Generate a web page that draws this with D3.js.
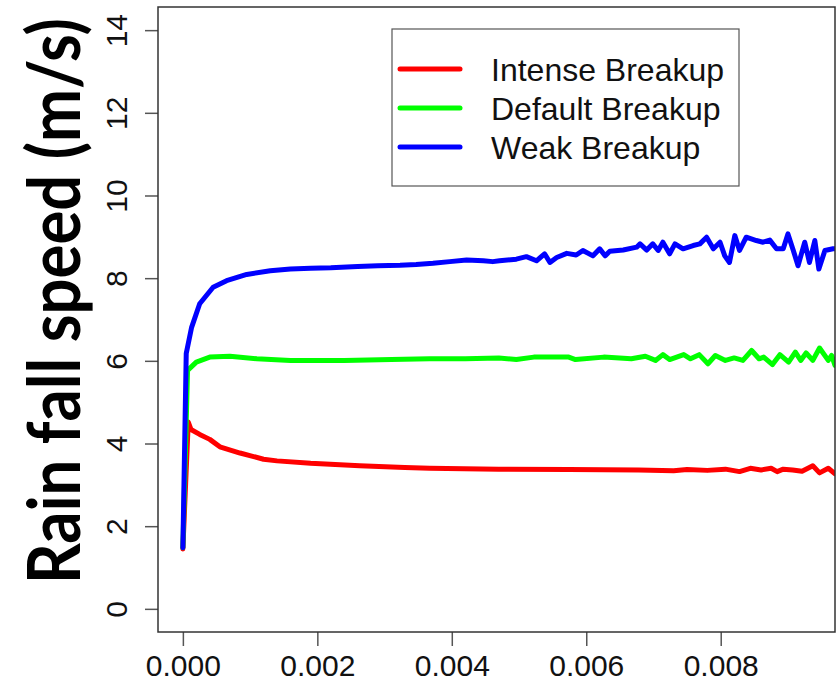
<!DOCTYPE html>
<html>
<head>
<meta charset="utf-8">
<style>
  body { margin: 0; background: #fff; }
  .tick-label { font-family: "Liberation Sans", Arial, sans-serif; fill: #111; }
  .legend-text { font-family: "Liberation Sans", Arial, sans-serif; font-size: 32px; fill: #111; }
  .series { fill: none; stroke-width: 5; stroke-linejoin: round; stroke-linecap: round; }
</style>
</head>
<body>
<svg id="chart" width="836" height="683"></svg>
<script src="https://cdn.jsdelivr.net/npm/d3@7"></script>
<script>
// time (s), speed (m/s)
const intense = [
  [0, 1.45], [0.00008, 4.52], [0.00012, 4.34], [0.00025, 4.22], [0.0004, 4.10],
  [0.00055, 3.92], [0.00085, 3.77], [0.0012, 3.62], [0.0014, 3.58], [0.0019, 3.52],
  [0.00263, 3.46], [0.0033, 3.42], [0.00367, 3.40], [0.0047, 3.38], [0.00574, 3.37],
  [0.00678, 3.36], [0.0073, 3.34], [0.0075, 3.37], [0.0078, 3.35], [0.00807, 3.38],
  [0.00828, 3.32], [0.00844, 3.40], [0.0086, 3.36], [0.00875, 3.40], [0.00884, 3.32],
  [0.00893, 3.38], [0.00907, 3.36], [0.00921, 3.33], [0.00937, 3.46], [0.00947, 3.29],
  [0.0096, 3.40], [0.0097, 3.27]
];
const deflt = [
  [0, 1.48], [0.00007, 5.77], [0.0002, 5.97], [0.0004, 6.09], [0.0007, 6.11],
  [0.0011, 6.05], [0.0016, 6.01], [0.0024, 6.01], [0.0031, 6.03], [0.00367, 6.05],
  [0.0042, 6.05], [0.0047, 6.07], [0.00496, 6.03], [0.00522, 6.09], [0.00574, 6.09],
  [0.00584, 6.03], [0.00626, 6.09], [0.00667, 6.05], [0.00688, 6.11], [0.00703, 6.01],
  [0.00714, 6.15], [0.00724, 6.03], [0.00745, 6.15], [0.00755, 6.05], [0.00768, 6.15],
  [0.00781, 5.93], [0.00792, 6.13], [0.00807, 6.01], [0.0082, 6.07], [0.00833, 6.01],
  [0.00846, 6.25], [0.00857, 6.05], [0.00864, 6.09], [0.00877, 5.91], [0.00888, 6.15],
  [0.00901, 5.97], [0.00911, 6.21], [0.00919, 6.01], [0.00927, 6.19], [0.00937, 6.01],
  [0.00947, 6.31], [0.0096, 6.01], [0.00965, 6.13], [0.0097, 5.89]
];
const weak = [
  [0, 1.48], [0.00005, 6.18], [0.00013, 6.81], [0.00025, 7.38], [0.00045, 7.78],
  [0.00065, 7.94], [0.00095, 8.09], [0.0013, 8.18], [0.0016, 8.22], [0.0019, 8.24],
  [0.0022, 8.25], [0.0026, 8.28], [0.0029, 8.30], [0.00323, 8.31], [0.00347, 8.33],
  [0.00372, 8.36], [0.00397, 8.40], [0.00422, 8.44], [0.00447, 8.42], [0.00461, 8.40],
  [0.00471, 8.42], [0.00496, 8.46], [0.00511, 8.52], [0.00526, 8.42], [0.00538, 8.59],
  [0.00546, 8.38], [0.00556, 8.50], [0.00571, 8.60], [0.00585, 8.56], [0.00595, 8.67],
  [0.0061, 8.54], [0.0062, 8.71], [0.00628, 8.54], [0.00635, 8.65], [0.00655, 8.68],
  [0.00675, 8.75], [0.0068, 8.83], [0.0069, 8.68], [0.00699, 8.83], [0.00707, 8.67],
  [0.00714, 8.87], [0.00724, 8.59], [0.00732, 8.83], [0.00744, 8.71], [0.00759, 8.79],
  [0.00769, 8.83], [0.00779, 8.99], [0.00789, 8.71], [0.00799, 8.87], [0.00806, 8.54],
  [0.00813, 8.38], [0.00821, 9.03], [0.00828, 8.67], [0.00838, 8.99], [0.00853, 8.91],
  [0.00863, 8.87], [0.00873, 8.92], [0.00883, 8.71], [0.00893, 8.71], [0.009, 9.07],
  [0.00908, 8.67], [0.00915, 8.30], [0.00925, 8.87], [0.00932, 8.38], [0.0094, 8.91],
  [0.00946, 8.22], [0.00955, 8.67], [0.00967, 8.71], [0.00975, 8.72]
];

const seriesNames = ["Intense Breakup", "Default Breakup", "Weak Breakup"];
const seriesColors = ["#ff0000", "#00ff00", "#0000ff"];
const seriesData = [intense, deflt, weak];
const xTicks = [0, 0.002, 0.004, 0.006, 0.008];
const yTicks = [0, 2, 4, 6, 8, 10, 12, 14];
const yTitle = "Rain fall speed (m/s)";

const svg = d3.select("#chart");
const plotLeft = 158, plotRight = 835, plotTop = 7, plotBottom = 632;

const x = d3.scaleLinear().domain([-0.00037, 0.0097]).range([plotLeft, plotRight]);
const y = d3.scaleLinear().domain([-0.56, 14.56]).range([plotBottom, plotTop]);

svg.append("clipPath").attr("id", "plotclip")
  .append("rect").attr("x", plotLeft).attr("y", plotTop)
  .attr("width", plotRight - plotLeft).attr("height", plotBottom - plotTop);

// axes, R style
let xAxis = svg.append("g").attr("transform", `translate(0,${plotBottom})`)
  .call(d3.axisBottom(x).tickValues(xTicks).tickFormat(d3.format(".3f")).tickSize(14));
xAxis.select(".domain").remove();
xAxis.selectAll("line").attr("stroke", "#555").attr("stroke-width", 1.5);
xAxis.selectAll("text").attr("class", "tick-label").attr("font-size", 30).attr("dy", null).attr("y", 44);

let yAxis = svg.append("g").attr("transform", `translate(${plotLeft},0)`)
  .call(d3.axisLeft(y).tickValues(yTicks).tickSize(13));
yAxis.select(".domain").remove();
yAxis.selectAll("line").attr("stroke", "#555").attr("stroke-width", 1.5);
yAxis.selectAll("text")
  .attr("class", "tick-label").attr("font-size", 30)
  .attr("x", null).attr("dy", null)
  .attr("text-anchor", "middle")
  .attr("transform", "translate(-31,0) rotate(-90)");

// data lines
let line = d3.line().x(d => x(d[0])).y(d => y(d[1]));
svg.append("g").attr("clip-path", "url(#plotclip)")
  .selectAll("path").data(seriesData)
  .enter().append("path")
  .attr("class", "series")
  .attr("stroke", (d, i) => seriesColors[i])
  .attr("d", line);

// plot box
svg.append("rect")
  .attr("x", plotLeft).attr("y", plotTop)
  .attr("width", plotRight - plotLeft).attr("height", plotBottom - plotTop)
  .attr("fill", "none").attr("stroke", "#333").attr("stroke-width", 1.5);

// legend
let legend = svg.append("g");
legend.append("rect")
  .attr("x", 392).attr("y", 29).attr("width", 347).attr("height", 157)
  .attr("fill", "#fff").attr("stroke", "#555").attr("stroke-width", 1.2);
let items = legend.selectAll("g.item").data(seriesNames).enter().append("g")
  .attr("transform", (d, i) => `translate(0,${69 + i * 39})`);
items.append("line")
  .attr("x1", 400).attr("x2", 460)
  .attr("stroke", (d, i) => seriesColors[i])
  .attr("stroke-width", 5).attr("stroke-linecap", "round");
items.append("text")
  .attr("class", "legend-text")
  .attr("x", 491).attr("y", 12)
  .text(d => d);

// y axis title (big bold label)
svg.append("text")
  .attr("transform", "translate(80,301) rotate(-90)")
  .attr("text-anchor", "middle")
  .attr("font-family", "Lato, 'Open Sans', sans-serif")
  .attr("font-weight", 700)
  .attr("font-size", 72)
  .attr("textLength", 566)
  .attr("lengthAdjust", "spacingAndGlyphs")
  .attr("fill", "#000")
  .text(yTitle);
</script>
</body>
</html>
